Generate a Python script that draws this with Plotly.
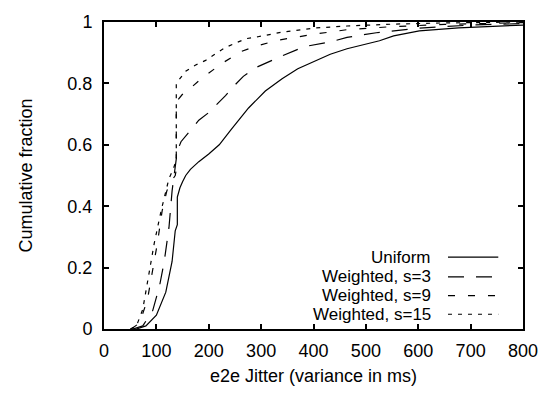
import plotly.graph_objects as go

# Data (x = jitter in ms, y = cumulative fraction)
uniform_x = [55, 62, 80, 100, 118, 130, 136, 140, 140, 145, 150, 156, 165, 181, 200, 220, 243, 276, 308, 340, 370, 402, 432, 464, 526, 553, 602, 677, 740, 800]
uniform_y = [0, 0, 0.01, 0.045, 0.12, 0.22, 0.32, 0.34, 0.43, 0.46, 0.48, 0.50, 0.52, 0.545, 0.57, 0.60, 0.65, 0.72, 0.775, 0.815, 0.848, 0.873, 0.895, 0.913, 0.939, 0.955, 0.971, 0.981, 0.986, 0.99]

s3_x = [55, 74, 93, 106, 115, 124, 130, 135, 138, 140, 147, 166, 181, 200, 232, 250, 266, 288, 307, 338, 383, 432, 464, 520, 600, 700, 800]
s3_y = [0, 0.01, 0.06, 0.14, 0.22, 0.33, 0.45, 0.52, 0.55, 0.58, 0.61, 0.65, 0.68, 0.705, 0.76, 0.795, 0.823, 0.85, 0.865, 0.888, 0.92, 0.935, 0.95, 0.965, 0.98, 0.99, 0.995]

s9_x = [52, 68, 83, 93, 102, 111, 120, 128, 136, 138, 138, 149, 162, 187, 225, 262, 288, 330, 400, 464, 550, 650, 800]
s9_y = [0, 0.02, 0.096, 0.19, 0.28, 0.385, 0.45, 0.48, 0.50, 0.52, 0.74, 0.763, 0.78, 0.817, 0.865, 0.904, 0.92, 0.94, 0.96, 0.975, 0.985, 0.992, 0.998]

s15_x = [50, 62, 74, 87, 96, 109, 118, 124, 132, 138, 138, 156, 175, 194, 213, 232, 253, 272, 294, 340, 400, 464, 550, 650, 800]
s15_y = [0, 0.01, 0.064, 0.19, 0.28, 0.385, 0.45, 0.49, 0.52, 0.55, 0.80, 0.84, 0.86, 0.875, 0.897, 0.917, 0.933, 0.946, 0.952, 0.967, 0.98, 0.987, 0.993, 0.997, 1.0]

series_names = ["Uniform", "Weighted, s=3", "Weighted, s=9", "Weighted, s=15"]
series_x = [uniform_x, s3_x, s9_x, s15_x]
series_y = [uniform_y, s3_y, s9_y, s15_y]
dashes = ["solid", "16px,12px", "7px,13px", "4px,6px"]

x_ticks = [0, 100, 200, 300, 400, 500, 600, 700, 800]
y_ticks = [0, 0.2, 0.4, 0.6, 0.8, 1]
y_tick_labels = ["0", "0.2", "0.4", "0.6", "0.8", "1"]

font_family = "Liberation Sans, Arial, Helvetica, sans-serif"
fsize = 18
legend_fsize = 17

fig = go.Figure()
for name, xs, ys, d in zip(series_names, series_x, series_y, dashes):
    fig.add_trace(go.Scatter(x=xs, y=ys, mode="lines", name=name,
                             line=dict(color="black", width=1.2, dash=d),
                             showlegend=False))

# Custom legend: text right-aligned, sample line to the right (gnuplot style)
legend_rows = [0.234, 0.170, 0.109, 0.048]
for name, d, yy in zip(series_names, dashes, legend_rows):
    fig.add_annotation(x=0.784, y=yy, xref="paper", yref="paper", text=name,
                       showarrow=False, xanchor="right", yanchor="middle",
                       borderpad=0,
                       font=dict(family=font_family, size=legend_fsize, color="black"))
    fig.add_shape(type="line", xref="paper", yref="paper",
                  x0=0.821, x1=0.941, y0=yy, y1=yy,
                  line=dict(color="black", width=1.2, dash=d))

axis_common = dict(showgrid=False, zeroline=False, showline=True, linecolor="black",
                   linewidth=2, mirror="ticks", ticks="inside", ticklen=5,
                   tickwidth=1.5, tickcolor="black",
                   tickfont=dict(family=font_family, size=fsize, color="black"))

fig.update_xaxes(range=[0, 800], tickvals=x_ticks, ticklabelstandoff=4,
                 title=dict(text="e2e Jitter (variance in ms)", standoff=10,
                            font=dict(family=font_family, size=fsize, color="black")),
                 **axis_common)
fig.update_yaxes(range=[0, 1], tickvals=y_ticks, ticktext=y_tick_labels,
                 ticklabelstandoff=6,
                 title=dict(text="Cumulative fraction", standoff=30,
                            font=dict(family=font_family, size=fsize, color="black")),
                 **axis_common)

fig.update_layout(width=550, height=395, margin=dict(l=104, r=22, t=18, b=65),
                  plot_bgcolor="white", paper_bgcolor="white",
                  font=dict(family=font_family, size=fsize, color="black"))

fig.write_html("out.html")
